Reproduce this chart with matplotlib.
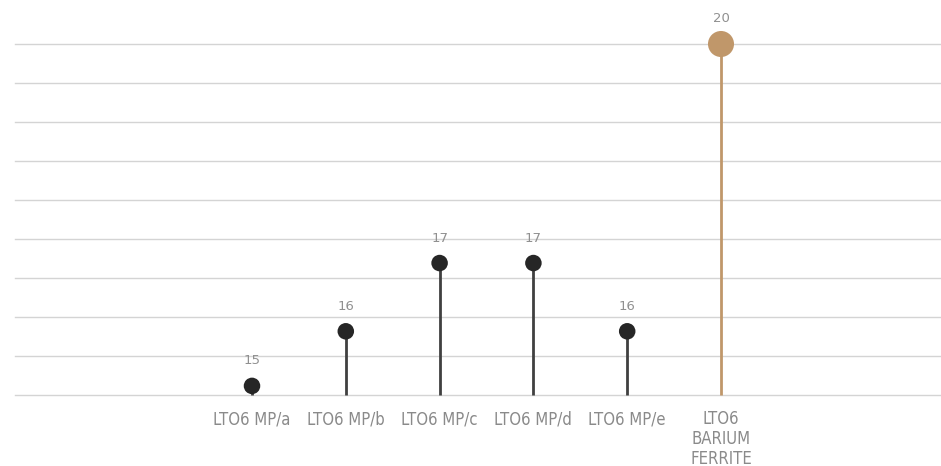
import matplotlib
matplotlib.use("Agg")
import matplotlib.pyplot as plt
import numpy as np
from matplotlib import font_manager

categories = ["LTO6 MP/a", "LTO6 MP/b", "LTO6 MP/c", "LTO6 MP/d", "LTO6 MP/e", "LTO6\nBARIUM\nFERRITE"]
values = [14.74, 15.58, 16.63, 16.63, 15.58, 20.0]
highlight = [False, False, False, False, False, True]

names = {f.name for f in font_manager.fontManager.ttflist}
cat_font = "Liberation Sans Narrow" if "Liberation Sans Narrow" in names else "DejaVu Sans"

fig = plt.figure(figsize=(9.41, 4.66), dpi=100)
ax = fig.add_axes([15/941, (466-395)/466, (941-15)/941, (395-44)/466])

ymin, ymax = 14.6, 20.0
ax.set_ylim(ymin, ymax)
ax.set_xlim(-(252-15)/93.8, (941-252)/93.8)

for g in np.arange(ymin, ymax + 0.01, 0.6):
    ax.axhline(g, color="#d4d4d4", lw=1.0, zorder=0, clip_on=False)

dark = "#262626"
tan = "#c0976a"
x = np.arange(len(categories))
for xi, v, h in zip(x, values, highlight):
    col = tan if h else "#404040"
    ax.plot([xi, xi], [ymin, v], color=col, lw=2, zorder=2, solid_capstyle="butt", clip_on=False)
    ax.scatter([xi], [v], s=(26 if h else 16.5)**2 * 0.52, color=(tan if h else dark), zorder=3,
               edgecolors="none", clip_on=False)
    ax.annotate(f"{round(v):d}", (xi, v), xytext=(0, 18), textcoords="offset points",
                ha="center", va="center", fontsize=9.5, color="#909090")

ax.set_xticks(x)
ax.set_xticklabels(categories, fontsize=12, color="#8a8a8a", family=cat_font,
                   fontstretch="condensed", linespacing=1.12)
ax.tick_params(axis="x", length=0, pad=11)
ax.set_yticks([])
for s in ax.spines.values():
    s.set_visible(False)

fig.savefig("out.png", dpi=100)
